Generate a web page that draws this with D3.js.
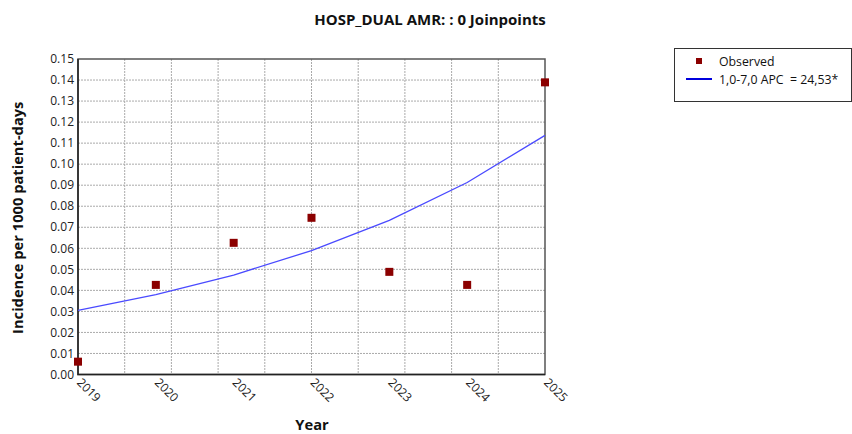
<!DOCTYPE html>
<html>
<head>
<meta charset="utf-8">
<script src="https://cdn.jsdelivr.net/npm/d3@7"></script>
<style>
  body { margin: 0; background: #fff; }
  text { font-family: "Open Sans", "DejaVu Sans", sans-serif; }
</style>
</head>
<body>
<script>
// chart data
var years = [2019, 2020, 2021, 2022, 2023, 2024, 2025];
var observed = [0.0061, 0.0426, 0.0626, 0.0745, 0.0488, 0.0426, 0.1389];
var modeled = [0.0305, 0.0380, 0.0473, 0.0589, 0.0733, 0.0913, 0.1137];
var yTicks = [0, 0.01, 0.02, 0.03, 0.04, 0.05, 0.06, 0.07, 0.08, 0.09, 0.10, 0.11, 0.12, 0.13, 0.14, 0.15];
var titleText = "HOSP_DUAL AMR: : 0 Joinpoints";
var legendLabels = ["Observed", "1,0-7,0 APC  = 24,53*"];

var width = 852, height = 434;
var pLeft = 78, pRight = 545, pTop = 59, pBottom = 374.5;

var svg = d3.select("body").append("svg")
  .attr("width", width)
  .attr("height", height);

var x = d3.scaleLinear().domain([2019, 2025]).range([pLeft, pRight]);
var y = d3.scaleLinear().domain([0, 0.15]).range([pBottom, pTop]);

// grid
var xGrid = d3.range(1, 10).map(function(i) { return 2019 + i * 0.6; });
svg.append("g").selectAll("line")
  .data(xGrid).enter().append("line")
  .attr("x1", d => x(d)).attr("x2", d => x(d))
  .attr("y1", pTop).attr("y2", pBottom)
  .attr("stroke", "#aaa").attr("stroke-dasharray", "2,1");

svg.append("g").selectAll("line")
  .data(yTicks.slice(1, -1)).enter().append("line")
  .attr("x1", pLeft).attr("x2", pRight)
  .attr("y1", d => y(d)).attr("y2", d => y(d))
  .attr("stroke", "#aaa").attr("stroke-dasharray", "2,1");

// frame
svg.append("rect")
  .attr("x", pLeft).attr("y", pTop)
  .attr("width", pRight - pLeft).attr("height", pBottom - pTop)
  .attr("fill", "none").attr("stroke", "#555").attr("stroke-width", 1.5);
svg.append("path")
  .attr("d", "M" + pLeft + "," + pTop + "V" + pBottom + "H" + pRight)
  .attr("fill", "none").attr("stroke", "#222").attr("stroke-width", 1.5);

// y axis labels
svg.append("g").selectAll("text")
  .data(yTicks).enter().append("text")
  .attr("x", pLeft - 4).attr("y", d => y(d))
  .attr("dy", "0.35em")
  .attr("text-anchor", "end")
  .attr("font-size", 12)
  .attr("fill", "#222")
  .text(d => d3.format(".2f")(d));

// x axis labels (rotated)
svg.append("g").selectAll("text")
  .data(years).enter().append("text")
  .attr("transform", d => "translate(" + (x(d) + 5) + "," + (pBottom + 2) + ") rotate(45)")
  .attr("dy", "0.8em")
  .attr("font-size", 12)
  .attr("fill", "#222")
  .text(d => d);

// modeled line
var line = d3.line()
  .x((d, i) => x(years[i]))
  .y(d => y(d));
svg.append("path")
  .datum(modeled)
  .attr("d", line)
  .attr("fill", "none")
  .attr("stroke", "#4a4aff")
  .attr("stroke-width", 1.3);

// observed points
svg.append("g").selectAll("rect")
  .data(observed).enter().append("rect")
  .attr("x", (d, i) => x(years[i]) - 4)
  .attr("y", d => y(d) - 4)
  .attr("width", 8).attr("height", 8)
  .attr("fill", "#8b0000");

// title
svg.append("text")
  .attr("x", 430).attr("y", 25)
  .attr("text-anchor", "middle")
  .attr("font-size", 15).attr("font-weight", "bold")
  .attr("fill", "#111")
  .text(titleText);

// axis titles
svg.append("text")
  .attr("transform", "translate(23," + ((pTop + pBottom) / 2 + 1) + ") rotate(-90)")
  .attr("text-anchor", "middle")
  .attr("font-size", 14.7).attr("font-weight", "bold")
  .attr("fill", "#111")
  .text("Incidence per 1000 patient-days");

svg.append("text")
  .attr("x", 312).attr("y", 430)
  .attr("text-anchor", "middle")
  .attr("font-size", 14.7).attr("font-weight", "bold")
  .attr("fill", "#111")
  .text("Year");

// legend
var lg = svg.append("g");
lg.append("rect")
  .attr("x", 674.5).attr("y", 48.5)
  .attr("width", 177).attr("height", 53)
  .attr("fill", "#fff").attr("stroke", "#333").attr("stroke-width", 1);
lg.append("rect")
  .attr("x", 696).attr("y", 58).attr("width", 6).attr("height", 6)
  .attr("fill", "#8b0000");
lg.append("line")
  .attr("x1", 686).attr("x2", 712).attr("y1", 79).attr("y2", 79)
  .attr("stroke", "#0000dd").attr("stroke-width", 2);
lg.selectAll("text.lab")
  .data(legendLabels).enter().append("text")
  .attr("class", "lab")
  .attr("x", 719).attr("y", (d, i) => 62 + i * 18)
  .attr("dy", "0.35em")
  .attr("font-size", 12.3)
  .attr("fill", "#111")
  .attr("xml:space", "preserve")
  .style("white-space", "pre")
  .text(d => d);
</script>
</body>
</html>
